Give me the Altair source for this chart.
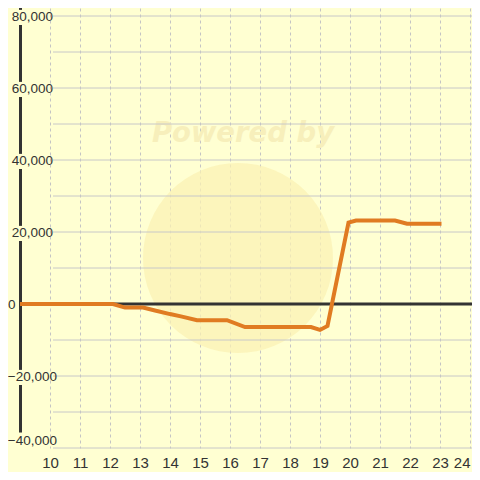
import altair as alt
import pandas as pd

# ---- data ----
hours = [9, 12.1, 12.5, 13.1, 13.5, 14.0, 14.4, 14.9, 15.9, 16.5, 18.7, 19.0, 19.25, 19.95, 20.2, 21.5, 21.9, 23.05]
values = [0, 0, -1000, -1000, -1800, -2800, -3500, -4500, -4500, -6400, -6400, -7200, -6100, 22600, 23200, 23200, 22300, 22300]
x_ticks = list(range(10, 25))
y_labels = [80000, 60000, 40000, 20000, 0, -20000, -40000]
y_grid = [80000, 70000, 60000, 50000, 40000, 30000, 20000, 10000, -10000, -20000, -30000, -40000]

BG = "#FFFFD2"
DARK = "#333333"
FONT = "Liberation Sans"
W = 452

line_df = pd.DataFrame({"h": hours, "v": values})
grid_df = pd.DataFrame({"v": y_grid})
lab_df = pd.DataFrame({"v": y_labels})

xs = alt.Scale(domain=[9, 9 + W / 30], nice=False, zero=False)
ys = alt.Scale(domain=[-40000, 80000 + 8 * 20000 / 72], nice=False, zero=False)

x_axis = alt.Axis(
    values=x_ticks, grid=True, gridDash=[3, 3], gridColor="#c4c4c4", gridWidth=1,
    domain=False, ticks=False, labelPadding=7, labelFontSize=15, labelColor=DARK,
    labelFont=FONT, title=None, labelFlush=4, labelOverlap=False, labelBound=False)
base_x = alt.X("h:Q", scale=xs, axis=x_axis)

# watermark
circle = alt.Chart(pd.DataFrame({"a": [0]})).mark_circle(
    size=36100, color="#FBF2B4", opacity=0.75).encode(x=alt.value(218), y=alt.value(250))
wm_text = alt.Chart(pd.DataFrame({"t": ["Powered by"]})).mark_text(
    fontSize=27.5, fontWeight="bold", fontStyle="italic", font="DejaVu Sans", color="#F7EFBB").encode(
    x=alt.value(223), y=alt.value(126), text="t:N")

# horizontal grid
hgrid = alt.Chart(grid_df).mark_rule(color="#c8c8c8", strokeWidth=1).encode(
    y=alt.Y("v:Q", scale=ys, axis=None), x=alt.value(33), x2=alt.value(W))

# x axis holder (grid + labels)
xaxis = alt.Chart(line_df).mark_point(opacity=0).encode(x=base_x, y=alt.Y("v:Q", scale=ys, axis=None))

# y axis line
yline = alt.Chart(pd.DataFrame({"a": [0]})).mark_rule(color=DARK, strokeWidth=3).encode(
    x=alt.value(0.5), y=alt.value(0), y2=alt.value(440))

# covers behind labels
cover = alt.Chart(lab_df).transform_filter("datum.v != 0").transform_calculate(
    lo="datum.v == -40000 ? datum.v : datum.v - 2500",
    hi="datum.v == -40000 ? datum.v + 4300 : datum.v + 1700").mark_rect(color=BG).encode(
    y=alt.Y("lo:Q", scale=ys, axis=None), y2="hi:Q", x=alt.value(-4), x2=alt.value(5))

txt_common = dict(fontSize=13.5, font=FONT, color=DARK)
labels_pos = alt.Chart(lab_df).transform_filter("datum.v > 0").mark_text(
    align="right", baseline="middle", dy=1, **txt_common).encode(
    y=alt.Y("v:Q", scale=ys, axis=None), x=alt.value(33), text=alt.Text("v:Q", format=","))
labels_neg = alt.Chart(lab_df).transform_filter("datum.v < 0 && datum.v != -40000").mark_text(
    align="right", baseline="middle", dy=1, **txt_common).encode(
    y=alt.Y("v:Q", scale=ys, axis=None), x=alt.value(37), text=alt.Text("v:Q", format=","))
labels_bot = alt.Chart(lab_df).transform_filter("datum.v == -40000").mark_text(
    align="right", baseline="bottom", dy=0, **txt_common).encode(
    y=alt.Y("v:Q", scale=ys, axis=None), x=alt.value(37), text=alt.Text("v:Q", format=","))
labels_zero = alt.Chart(lab_df).transform_filter("datum.v == 0").mark_text(
    align="left", baseline="middle", dy=1, **txt_common).encode(
    y=alt.Y("v:Q", scale=ys, axis=None), x=alt.value(-12), text=alt.Text("v:Q", format=","))

zero = alt.Chart(pd.DataFrame({"v": [0]})).mark_rule(color=DARK, strokeWidth=3).encode(
    y=alt.Y("v:Q", scale=ys, axis=None), x=alt.value(0), x2=alt.value(W))

line = alt.Chart(line_df).mark_line(color="#E07B22", strokeWidth=4).encode(
    x=base_x, y=alt.Y("v:Q", scale=ys, axis=None))

chart = alt.layer(
    xaxis, circle, wm_text, hgrid, yline, cover, labels_pos, labels_neg, labels_bot, labels_zero, zero, line
).properties(
    width=W, height=440,
    autosize=alt.AutoSizeParams(type="none"),
    padding={"left": 12, "top": 0, "right": 0, "bottom": 24},
    background=BG,
).configure_view(stroke=None, fill=BG)

chart.save("out.html", embed_options={"renderer": "svg", "actions": False})
